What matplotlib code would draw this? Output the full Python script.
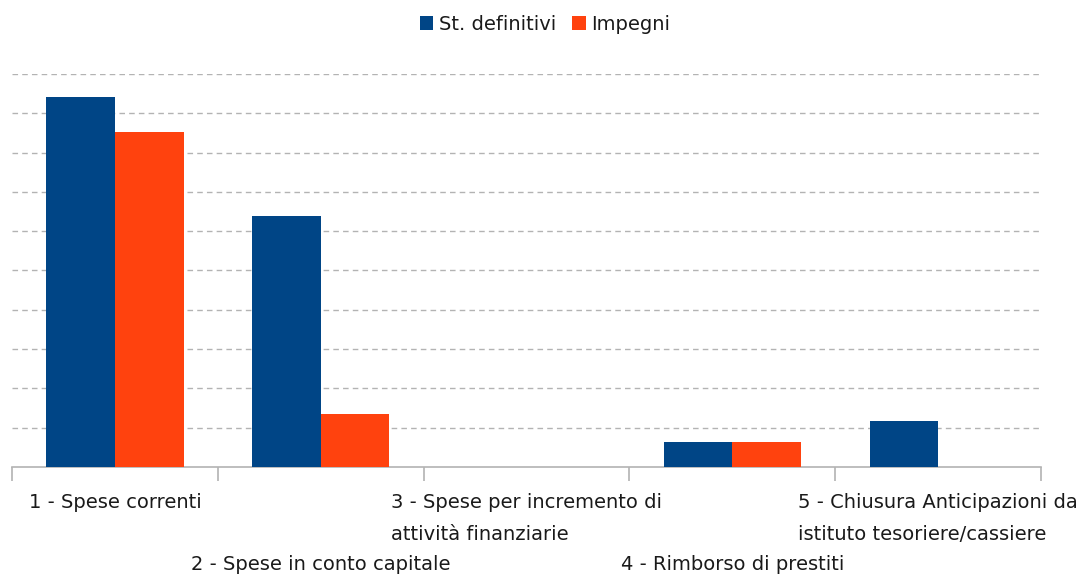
import matplotlib
matplotlib.use("Agg")
import matplotlib.pyplot as plt
import matplotlib.transforms as mtransforms
import numpy as np

categories = [
    "1 - Spese correnti",
    "2 - Spese in conto capitale",
    "3 - Spese per incremento di\nattività finanziarie",
    "4 - Rimborso di prestiti",
    "5 - Chiusura Anticipazioni da\nistituto tesoriere/cassiere",
]
series_names = ["St. definitivi", "Impegni"]
st_definitivi = [9.41, 6.39, 0.0, 0.64, 1.17]
impegni = [8.52, 1.35, 0.0, 0.64, 0.0]
colors = ["#004586", "#ff420e"]

FONT = ['DejaVu Sans']
plt.rcParams['font.family'] = FONT
fig = plt.figure(figsize=(10.82, 5.81), dpi=100)
W, H = 1082, 581
ax = fig.add_axes([12 / W, 1 - 467 / H, (1041 - 12) / W, (467 - 74) / H])

x = np.arange(len(categories))
bw = 1 / 3
ax.bar(x - bw / 2, st_definitivi, bw, color=colors[0], label=series_names[0], zorder=3)
ax.bar(x + bw / 2, impegni, bw, color=colors[1], label=series_names[1], zorder=3)

ax.set_xlim(-0.5, len(categories) - 0.5)
ax.set_ylim(0, 10)
ax.set_yticks(np.arange(1, 11))
ax.yaxis.grid(True, color="#b3b3b3", linestyle=(0, (4, 3)), linewidth=1)
ax.tick_params(axis='y', left=False, labelleft=False)
for s in ["left", "right", "top"]:
    ax.spines[s].set_visible(False)
ax.spines["bottom"].set_color("#b3b3b3")
ax.spines["bottom"].set_linewidth(1.2)
ax.set_xticks(np.arange(-0.5, len(categories)))
ax.set_xticklabels([])
ax.tick_params(axis='x', length=10, color="#b3b3b3", width=1.2, direction='out')

trans = mtransforms.blended_transform_factory(ax.transData, fig.transFigure)
for i, lab in enumerate(categories):
    ytop = 493 if i % 2 == 0 else 555
    ax.text(i, 1 - ytop / H, lab, transform=trans, ha='center', va='top',
            multialignment='left', fontsize=14, color="#1a1a1a",
            linespacing=1.85, family=FONT)

fig.legend(loc='center', bbox_to_anchor=(545 / W, 1 - 24 / H), ncol=2,
           frameon=False, prop={'family': FONT, 'size': 14},
           handlelength=0.7, handleheight=0.7,
           handletextpad=0.3, columnspacing=0.8, labelcolor="#1a1a1a")

fig.savefig("out.png", dpi=100)
